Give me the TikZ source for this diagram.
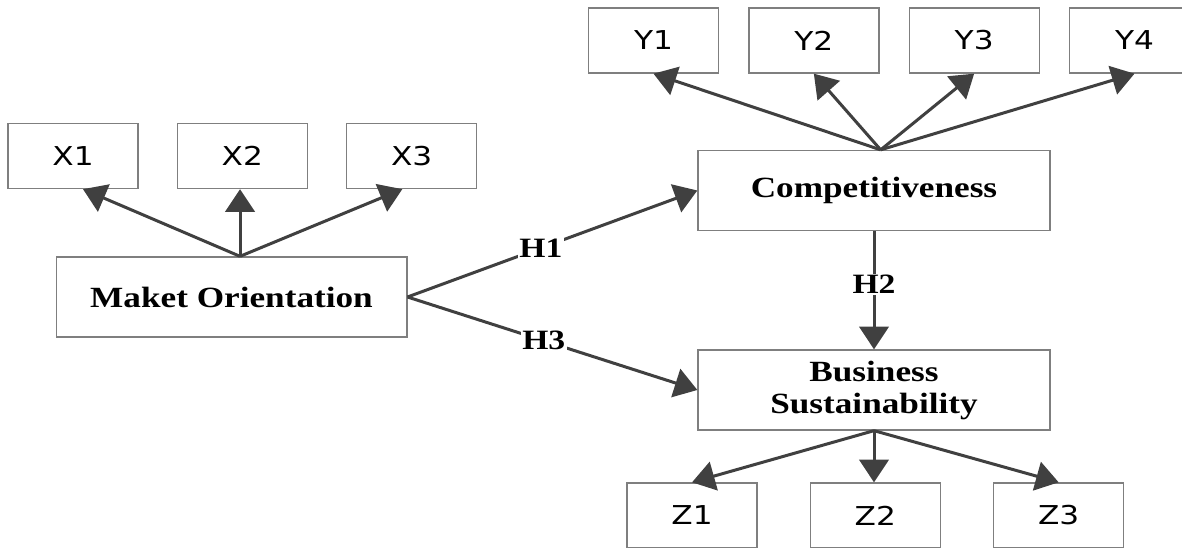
\documentclass[tikz,border=0pt]{standalone}
\usepackage{fontspec}
\setmainfont{Liberation Serif}
\newfontfamily\boxfont[FakeStretch=1.2]{DejaVu Sans}
\newfontfamily\headfont[FakeStretch=1.2]{Liberation Serif}
\usetikzlibrary{positioning,arrows.meta}
\definecolor{linegray}{HTML}{404040}
\definecolor{boxgray}{HTML}{7F7F7F}
\tikzset{
  indicator/.style={draw=boxgray,line width=1pt,minimum width=97.5pt,minimum height=48.75pt,inner sep=0pt,font=\boxfont\fontsize{19.5}{22}\selectfont},
  construct/.style={draw=boxgray,line width=1pt,minimum width=264pt,minimum height=60pt,inner sep=0pt,align=center,font=\headfont\bfseries\fontsize{22}{24}\selectfont},
  link/.style={draw=linegray,line width=2.25pt,-{Triangle[length=17pt,width=22pt]}},
  hlabel/.style={fill=white,inner sep=1pt,font=\headfont\bfseries\fontsize{21}{24}\selectfont}
}

\begin{document}
\begin{tikzpicture}[x=0.75pt,y=-0.75pt]
           \useasboundingbox (0,0) rectangle (1182,548);
           \node[construct,minimum width=263pt] (mo) at (231.5,297) {Maket Orientation};
           \node[indicator] (x_1) at (73,156) {X1};
           \node[indicator] (x_2) [right=28.5pt of x_1] {X2};
           \node[indicator] (x_3) [right=28.5pt of x_2] {X3};
           \node[construct] (comp) at (874,190.5) {Competitiveness};
           \node[indicator] (y_1) at (653.5,40.5) {Y1};
           \node[indicator] (y_2) [right=21.75pt of y_1] {Y2};
           \node[indicator] (y_3) [right=21.75pt of y_2] {Y3};
           \node[indicator] (y_4) [right=21.75pt of y_3] {Y4};
           \node[construct] (bs) at (874,390) {Business\\Sustainability};
           \node[indicator] (z_1) at (692,515.5) {Z1};
           \node[indicator] (z_2) [right=39pt of z_1] {Z2};
           \node[indicator] (z_3) [right=39pt of z_2] {Z3};
            \path[every edge/.style=link]
            ([xshift=6.4pt]mo.north) edge ([xshift=7.5pt]x_1.south)
                                     edge ([xshift=6.4pt]mo.north |- x_2.south)
                                     edge ([xshift=-7pt]x_3.south)
            ([xshift=5pt]comp.north) edge (y_1.south)
                                     edge (y_2.south)
                                     edge (y_3.south)
                                     edge (y_4.south)
            (bs.south) edge (z_1.north)
                       edge (bs.south |- z_2.north)
                       edge (z_3.north)
            (mo.east) edge node[hlabel,pos=0.46] {H1} (comp.west)
                      edge node[hlabel,pos=0.47] {H3} (bs.west)
            (comp.south) edge node[hlabel,pos=0.45] {H2} (bs.north)
            ;
        \end{tikzpicture}
\end{document}
